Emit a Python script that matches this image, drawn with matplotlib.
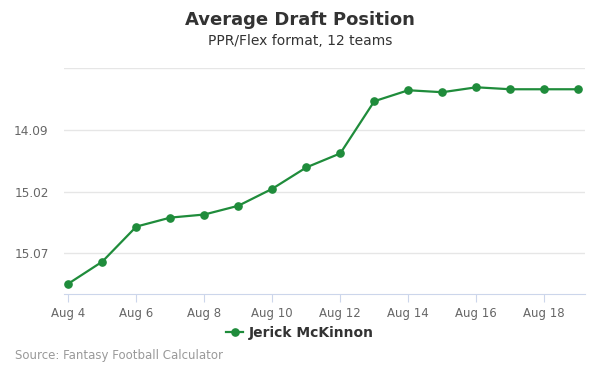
import matplotlib
matplotlib.use("Agg")
import matplotlib.pyplot as plt
from matplotlib.lines import Line2D

days = [4, 5, 6, 7, 8, 9, 10, 11, 12, 13, 14, 15, 16, 17, 18, 19]
adp = [177.47, 175.68, 172.84, 172.11, 171.86, 171.15, 169.77, 168.04,
       166.90, 162.67, 161.78, 161.94, 161.54, 161.70, 161.70, 161.70]
ytick_vals = [160, 165, 170, 175]
ytick_labels = ["", "14.09", "15.02", "15.07"]
xtick_days = [4, 6, 8, 10, 12, 14, 16, 18]
xtick_labels = [f"Aug {d}" for d in xtick_days]
series_name = "Jerick McKinnon"

green = "#1f8c3b"
plt.rcParams['font.family'] = ['DejaVu Sans']

fig = plt.figure(figsize=(6, 3.75), dpi=100)
ax = fig.add_axes([64/600, 1-294.3/375, (585-64)/600, (294.3-68.3)/375])

ax.plot(days, adp, color=green, lw=1.6, marker='o', markersize=5.2, zorder=3,
        clip_on=False)
ax.set_xlim(4 - 4.3/34, 19 + 6.7/34)
ax.set_ylim(178.33, 160)

ax.set_yticks(ytick_vals)
ax.set_yticklabels(ytick_labels)
ax.set_xticks(xtick_days)
ax.set_xticklabels(xtick_labels)
ax.grid(axis='y', color='#e6e6e6', lw=1)
ax.set_axisbelow(True)
for s in ['top', 'right', 'left']:
    ax.spines[s].set_visible(False)
ax.spines['bottom'].set_color('#ccd6eb')
ax.tick_params(axis='y', length=0, labelsize=8.7, labelcolor='#666666', pad=11)
ax.tick_params(axis='x', length=6, color='#ccd6eb', labelsize=8.5,
               labelcolor='#666666', pad=3)

fig.text(0.5, 1-20/375, "Average Draft Position", ha='center', va='center',
         fontsize=13, fontweight='bold', color='#333333')
fig.text(0.5, 1-41/375, "PPR/Flex format, 12 teams", ha='center', va='center',
         fontsize=10, color='#333333')
fig.text(15/600, 1-356/375, "Source: Fantasy Football Calculator", ha='left',
         va='center', fontsize=8.5, color='#999999')

handle = Line2D([], [], color=green, lw=1.6, marker='o', markersize=5.2)
leg = fig.legend([handle], [series_name], loc='center', bbox_to_anchor=(0.5, 1-333/375),
                 frameon=False, handlelength=1.2, handletextpad=0.4,
                 prop={'weight': 'bold', 'size': 10})
for t in leg.get_texts():
    t.set_color('#333333')

fig.savefig("out.png", dpi=100)
